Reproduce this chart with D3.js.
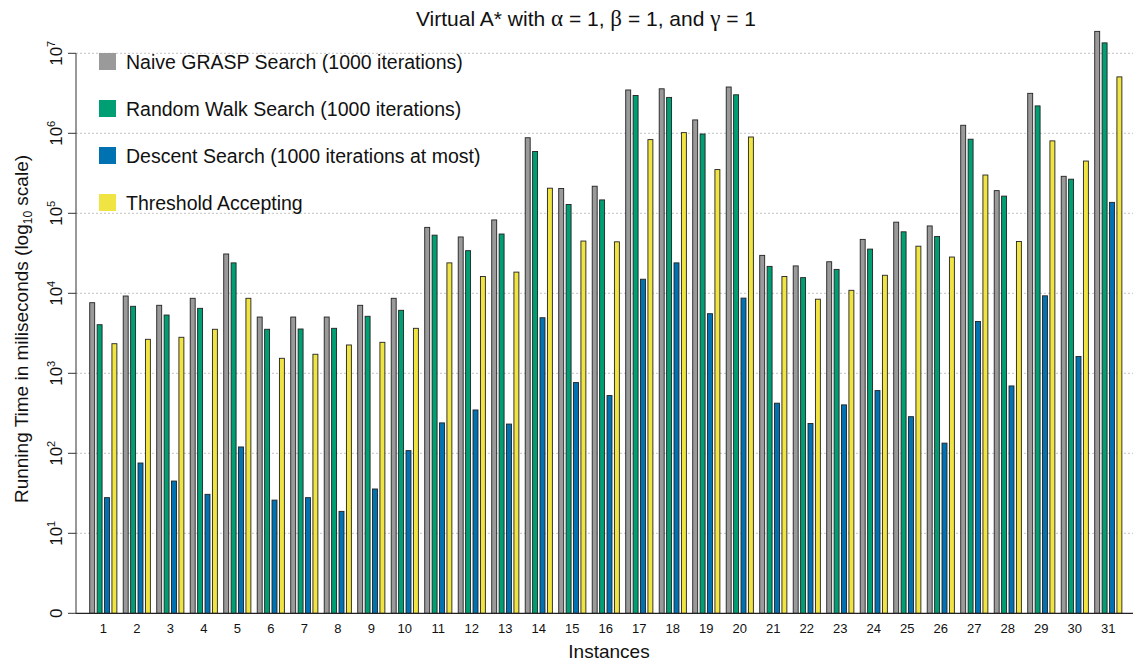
<!DOCTYPE html>
<html>
<head>
<meta charset="utf-8">
<script src="https://cdn.jsdelivr.net/npm/d3@7"></script>
<style>
  html, body { margin: 0; padding: 0; background: #fff; }
  svg { display: block; font-family: "Liberation Sans", Arial, Helvetica, sans-serif; }
</style>
</head>
<body>
<svg id="chart" width="1134" height="662"></svg>
<script>
const instances = d3.range(1, 32).map(String);
const seriesNames = [
  "Naive GRASP Search (1000 iterations)",
  "Random Walk Search (1000 iterations)",
  "Descent Search (1000 iterations at most)",
  "Threshold Accepting"
];
const seriesColors = ["#9a9a9a", "#009e73", "#0072b2", "#f0e442"];

const naiveGrasp = [7630, 9250, 7080, 8660, 31000, 5050, 5050, 5050, 7080, 8660,
  66700, 50600, 82600, 880000, 204000, 218000, 3480000, 3600000, 1470000, 3790000,
  29800, 22000, 24800, 47200, 77500, 69500, 1260000, 192000, 3160000, 290000, 18800000];
const randomWalk = [4050, 6880, 5350, 6490, 24000, 3550, 3580, 3650, 5160, 6130,
  53300, 34100, 55100, 593000, 129000, 147000, 2970000, 2810000, 980000, 3030000,
  21700, 15700, 19900, 35700, 58700, 51400, 844000, 164000, 2200000, 267000, 13500000];
const descent = [27.9, 75.6, 45, 30.7, 120, 26, 27.9, 18.8, 35.8, 108,
  240, 348, 232, 4950, 766, 527, 15000, 24000, 5560, 8710,
  423, 236, 403, 608, 287, 134, 4440, 695, 9300, 1620, 137000];
const threshold = [2344, 2660, 2820, 3550, 8660, 1540, 1730, 2260, 2440, 3650,
  24000, 16200, 18400, 206000, 45000, 44000, 834000, 1020000, 352000, 899000,
  16200, 8440, 10900, 16800, 38800, 28400, 301000, 44400, 804000, 450000, 5070000];
const seriesValues = [naiveGrasp, randomWalk, descent, threshold];
const yTickExponents = [0, 1, 2, 3, 4, 5, 6, 7];

const svg = d3.select("#chart");
const left = 76, right = 1135.6, y0 = 613.3, yTop = 53.3;

const x = d3.scaleBand().domain(instances).range([left, right])
  .paddingInner(0).paddingOuter(0.315);
const xs = d3.scaleBand().domain(d3.range(4)).range([-14.8, 14.8])
  .paddingInner(0.33).paddingOuter(0.165);
const y = d3.scaleLog().domain([1, 1e7]).range([y0, yTop]);

// gridlines
svg.append("g").selectAll("line")
  .data(yTickExponents.filter(e => e > 0))
  .join("line")
  .attr("x1", left).attr("x2", 1133)
  .attr("y1", e => y(Math.pow(10, e))).attr("y2", e => y(Math.pow(10, e)))
  .attr("stroke", "#c4c4c4").attr("stroke-width", 1)
  .attr("stroke-dasharray", "2,2");

// bars
const groups = svg.append("g").selectAll("g")
  .data(instances)
  .join("g")
  .attr("transform", d => `translate(${x(d) + x.bandwidth() / 2},0)`);

groups.selectAll("rect")
  .data((d, i) => seriesValues.map((vals, s) => ({ s, v: vals[i] })))
  .join("rect")
  .attr("x", d => xs(d.s))
  .attr("width", xs.bandwidth())
  .attr("y", d => y(d.v))
  .attr("height", d => y0 - y(d.v))
  .attr("fill", d => seriesColors[d.s])
  .attr("stroke", "#222")
  .attr("stroke-width", 0.9);

// axes lines
svg.append("line").attr("x1", left).attr("x2", left).attr("y1", yTop).attr("y2", y0)
  .attr("stroke", "#333").attr("stroke-width", 1);
svg.append("line").attr("x1", left).attr("x2", 1133).attr("y1", y0).attr("y2", y0)
  .attr("stroke", "#222").attr("stroke-width", 1.2);

// y ticks
const yt = svg.append("g");
yt.selectAll("line").data(yTickExponents).join("line")
  .attr("x1", left - 8).attr("x2", left)
  .attr("y1", e => y(Math.pow(10, e))).attr("y2", e => y(Math.pow(10, e)))
  .attr("stroke", "#333");
yTickExponents.forEach(e => {
  const t = yt.append("text")
    .attr("transform", `translate(62,${y(Math.pow(10, e))}) rotate(-90)`)
    .attr("text-anchor", "middle")
    .attr("font-size", 17).attr("fill", "#111");
  if (e === 0) {
    t.text("0");
  } else {
    t.append("tspan").text("10");
    t.append("tspan").attr("font-size", 11).attr("dy", -7).text(String(e));
  }
});

// x tick labels
svg.append("g").selectAll("text").data(instances).join("text")
  .attr("x", d => x(d) + x.bandwidth() / 2)
  .attr("y", 633)
  .attr("text-anchor", "middle")
  .attr("font-size", 13).attr("fill", "#111")
  .text(d => d);

// axis titles
svg.append("text").attr("x", 609).attr("y", 657.5).attr("text-anchor", "middle")
  .attr("font-size", 19).attr("fill", "#111").text("Instances");

const yl = svg.append("text")
  .attr("transform", "translate(28,329) rotate(-90)")
  .attr("text-anchor", "middle").attr("font-size", 19).attr("fill", "#111");
yl.append("tspan").text("Running Time in miliseconds (log");
yl.append("tspan").attr("font-size", 12).attr("dy", 4).text("10");
yl.append("tspan").attr("dy", -4).text(" scale)");

// title
const title = svg.append("text").attr("x", 586).attr("y", 26).attr("text-anchor", "middle")
  .attr("font-size", 21).attr("fill", "#111");
title.append("tspan").text("Virtual A* with ");
title.append("tspan").attr("font-family", "'Liberation Serif', 'DejaVu Serif', serif").attr("font-size", 23).text("α");
title.append("tspan").text(" = 1, ");
title.append("tspan").attr("font-family", "'Liberation Serif', 'DejaVu Serif', serif").attr("font-size", 23).text("β");
title.append("tspan").text(" = 1, and ");
title.append("tspan").attr("font-family", "'Liberation Serif', 'DejaVu Serif', serif").attr("font-size", 23).text("γ");
title.append("tspan").text(" = 1");

// legend
const legend = svg.append("g").selectAll("g").data(seriesNames).join("g")
  .attr("transform", (d, i) => `translate(99,${53 + i * 47})`);
legend.append("rect").attr("width", 17).attr("height", 17)
  .attr("fill", (d, i) => seriesColors[i]);
legend.append("text").attr("x", 27).attr("y", 16).attr("font-size", 19.5)
  .attr("fill", "#111").text(d => d);
</script>
</body>
</html>
